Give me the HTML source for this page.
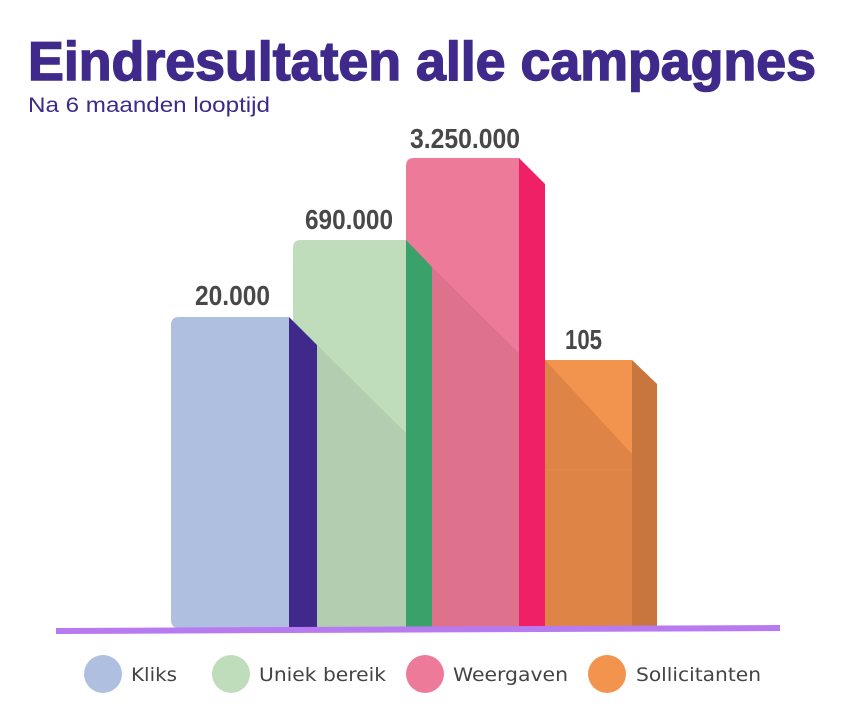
<!DOCTYPE html>
<html><head><meta charset="utf-8"><style>
html,body{margin:0;padding:0;background:#fff;width:841px;height:720px;overflow:hidden}
</style></head><body>
<svg width="841" height="720" viewBox="0 0 841 720" xmlns="http://www.w3.org/2000/svg">
<text x="28" y="80" font-family="Liberation Sans, sans-serif" font-weight="bold" font-size="55" fill="#3f2a8c" stroke="#3f2a8c" stroke-width="1.5" textLength="788" lengthAdjust="spacingAndGlyphs">Eindresultaten alle campagnes</text>
<text x="28" y="112" font-family="Liberation Sans, sans-serif" font-size="21" fill="#3f2a8c" textLength="242" lengthAdjust="spacingAndGlyphs">Na 6 maanden looptijd</text>

<!-- orange -->
<path d="M545 360 H628 Q632 360 634 362 L657 384 V628 H545 Z" fill="#de8447"/>
<path d="M545 360 H632 V454 Z" fill="#f2934e"/>
<path d="M632 360 L657 384 V628 H632 Z" fill="#c8763e"/>
<line x1="545" y1="470" x2="632" y2="470" stroke="#e48c4a" stroke-width="1"/>

<!-- pink -->
<path d="M406 166 Q406 158 414 158 H519 V628 H406 Z" fill="#ee7a99"/>
<path d="M432 267 L519 353 V628 H432 Z" fill="#de728d"/>
<path d="M519 158 L545 184 V628 H519 Z" fill="#ef2066"/>

<!-- green -->
<path d="M293 248 Q293 240 301 240 H406 V628 H293 Z" fill="#bfdcbb"/>
<path d="M317 345 L406 433 V628 H317 Z" fill="#b2cdaf"/>
<path d="M406 240 L432 267 V628 H406 Z" fill="#3ba16b"/>

<!-- blue -->
<path d="M171 325 Q171 317 179 317 H289 V628 H179 Q171 628 171 620 Z" fill="#afbfdf"/>
<path d="M289 317 L317 345 V628 H289 Z" fill="#3f2a8c"/>

<!-- baseline -->
<polygon points="56,628 780,625 780,631 56,634" fill="#b87af0"/>

<g font-family="Liberation Sans Narrow, Liberation Sans, sans-serif" font-weight="bold" font-size="28" fill="#484848">
<text x="195" y="305" textLength="75" lengthAdjust="spacingAndGlyphs">20.000</text>
<text x="305" y="229" textLength="88" lengthAdjust="spacingAndGlyphs">690.000</text>
<text x="410" y="148" textLength="110" lengthAdjust="spacingAndGlyphs">3.250.000</text>
<text x="565" y="349" textLength="37" lengthAdjust="spacingAndGlyphs">105</text>
</g>

<g font-family="DejaVu Sans, sans-serif" font-size="19" fill="#444">
<circle cx="103" cy="674" r="19" fill="#afbfdf"/>
<text x="131" y="681" textLength="46" lengthAdjust="spacingAndGlyphs">Kliks</text>
<circle cx="231" cy="674" r="19" fill="#bfdcbb"/>
<text x="259" y="681" textLength="127" lengthAdjust="spacingAndGlyphs">Uniek bereik</text>
<circle cx="425" cy="674" r="19" fill="#ee7a99"/>
<text x="453" y="681" textLength="115" lengthAdjust="spacingAndGlyphs">Weergaven</text>
<circle cx="607" cy="674" r="19" fill="#f2934e"/>
<text x="636" y="681" textLength="125" lengthAdjust="spacingAndGlyphs">Sollicitanten</text>
</g>
</svg>
</body></html>
